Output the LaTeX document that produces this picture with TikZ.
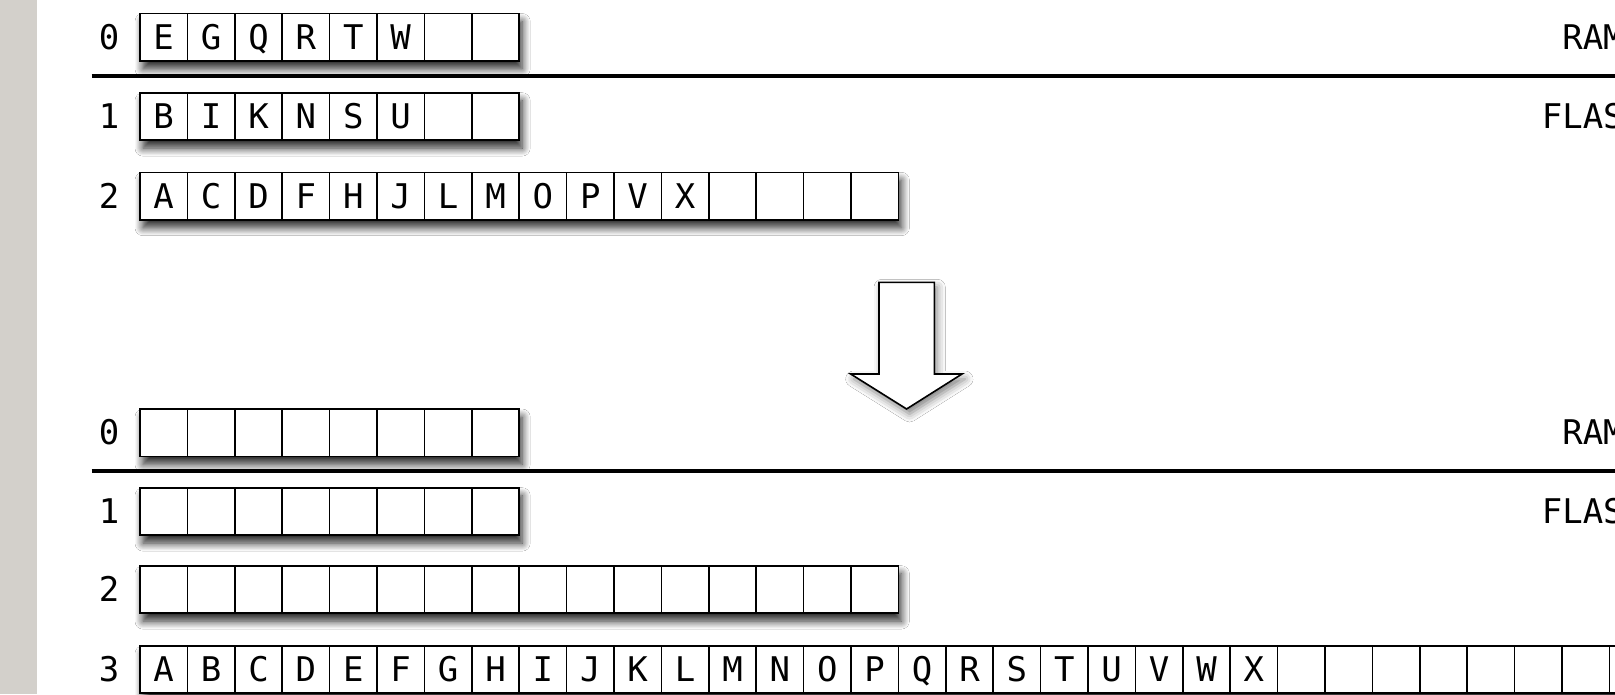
\documentclass[tikz,border=0pt]{standalone}
\usepackage{fontspec}
\newfontfamily\cellfont{DejaVu Sans Mono}
\usetikzlibrary{shadows.blur}

\definecolor{sidebar}{HTML}{D3D0CB}

% one row of memory cells: name, top edge, number of cells, letters
\newcommand\memrow[4]{%
  \node[rowframe, minimum width=#3*47.4pt] (#1) at (140,#2) {};
  \foreach \k in {1,...,#3}
    \node[cell] (#1-\k) at ({140+(\k-1)*47.4},#2) {};
  \foreach \l [count=\k] in {#4}
    \node[glyph] (#1-\k-t) at (#1-\k.center) {\l};
}

\begin{document}
\begin{tikzpicture}[x=1pt,y=-1pt,
  txt/.style={font=\cellfont\fontsize{34}{34}\selectfont, text height=24.5pt, text depth=0pt, inner sep=0pt},
  rowframe/.style={anchor=north west, minimum height=47.4pt, inner sep=0pt, outer sep=0pt,
    fill=white, blur shadow={shadow xshift=3pt, shadow yshift=-8pt, shadow blur radius=8pt,
      shadow blur steps=12, shadow opacity=85}},
  cell/.style={draw=black, line width=1.6pt, anchor=north west, minimum width=47.4pt, minimum height=47.4pt,
    inner sep=0pt, outer sep=0pt},
  glyph/.style={txt},
  idx/.style={txt},
  sep/.style={line width=3.5pt},
  bigarrow/.style={draw=black, line width=1.6pt, fill=white, line join=miter,
    blur shadow={shadow xshift=3pt, shadow yshift=-5pt, shadow blur radius=8pt, shadow opacity=50}}
]
\useasboundingbox (0,0) rectangle (1615,694);
\fill[white] (0,0) rectangle (1615,694);
\fill[sidebar] (0,0) rectangle (37,694);

% before the merge
\memrow{a0}{13.5}{8}{E,G,Q,R,T,W}
\memrow{a1}{92.7}{8}{B,I,K,N,S,U}
\memrow{a2}{172.3}{16}{A,C,D,F,H,J,L,M,O,P,V,X}
\node[idx] (a0-lbl) at (109,37.2) {0};
\node[idx] (a1-lbl) at (109,116.4) {1};
\node[idx] (a2-lbl) at (109,196) {2};
\node[idx] (a-ram) at (1593,37.2) {RAM};
\node[idx] (a-flash) at (1593,116.4) {FLASH};
\coordinate (a-sepL) at (91.7,76);
\coordinate (a-sepR) at (1615,76);
\draw[sep] (a-sepL) -- (a-sepR);

% merge arrow
\draw[bigarrow] (879,282.3) -- (934.3,282.3) -- (934.3,374) -- (962,374)
  -- (906.6,409) -- (850.7,374) -- (879,374) -- cycle;

% after the merge
\memrow{b0}{409}{8}{}
\memrow{b1}{487.7}{8}{}
\memrow{b2}{565.7}{16}{}
\memrow{b3}{645.7}{32}{A,B,C,D,E,F,G,H,I,J,K,L,M,N,O,P,Q,R,S,T,U,V,W,X}
\node[idx] (b0-lbl) at (109,432.7) {0};
\node[idx] (b1-lbl) at (109,511.4) {1};
\node[idx] (b2-lbl) at (109,589.4) {2};
\node[idx] (b3-lbl) at (109,669.4) {3};
\node[idx] (b-ram) at (1593,432.7) {RAM};
\node[idx] (b-flash) at (1593,511.4) {FLASH};
\coordinate (b-sepL) at (91.7,471);
\coordinate (b-sepR) at (1615,471);
\draw[sep] (b-sepL) -- (b-sepR);
\end{tikzpicture}
\end{document}
